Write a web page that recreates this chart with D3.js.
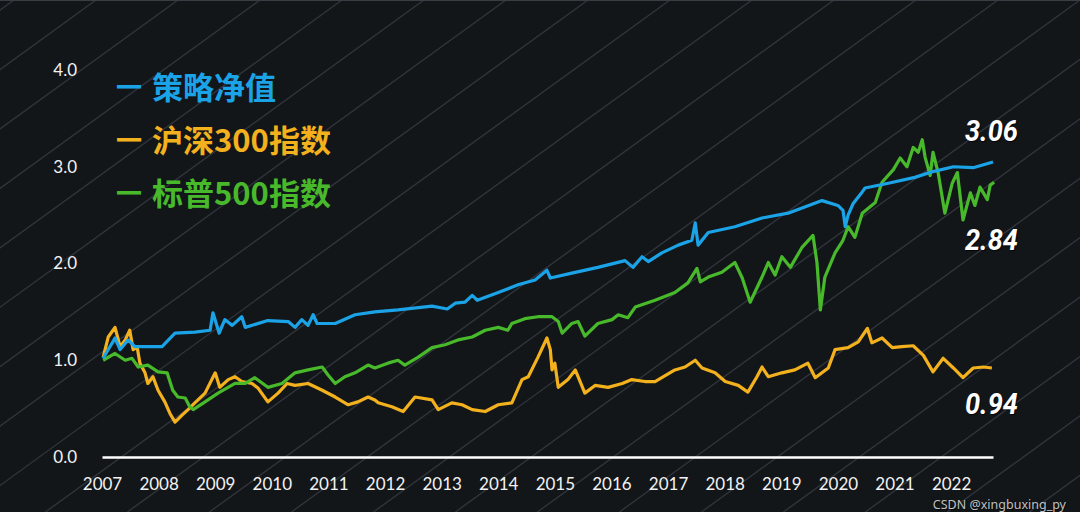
<!DOCTYPE html>
<html><head><meta charset="utf-8">
<script src="https://cdn.jsdelivr.net/npm/d3@7"></script>
<style>html,body{margin:0;padding:0;background:#121619;} svg{display:block}</style>
</head><body><svg id="c" width="1080" height="512"></svg>
<script>
// ---- data (decimal years, net value) ----
const strategyDates = [2007.02,2007.23,2007.32,2007.46,2007.58,2008.06,2008.29,2008.64,2008.91,2008.96,2009.07,2009.17,2009.30,2009.47,2009.53,2009.93,2010.29,2010.41,2010.53,2010.64,2010.73,2010.80,2011.12,2011.47,2011.82,2012.23,2012.83,2013.10,2013.24,2013.41,2013.54,2013.63,2014.00,2014.35,2014.65,2014.86,2014.92,2015.30,2015.76,2016.24,2016.38,2016.54,2016.65,2016.89,2017.18,2017.42,2017.48,2017.53,2017.71,2018.18,2018.66,2019.12,2019.72,2020.00,2020.09,2020.13,2020.18,2020.27,2020.43,2020.48,2020.89,2021.36,2021.68,2022.04,2022.39,2022.74];
const strategyValues = [1.02,1.23,1.11,1.21,1.14,1.14,1.28,1.29,1.31,1.49,1.28,1.42,1.36,1.45,1.34,1.41,1.40,1.34,1.42,1.36,1.47,1.38,1.38,1.47,1.50,1.52,1.56,1.53,1.59,1.60,1.67,1.62,1.70,1.78,1.83,1.93,1.85,1.90,1.96,2.03,1.96,2.07,2.02,2.11,2.19,2.24,2.42,2.19,2.32,2.38,2.47,2.52,2.65,2.60,2.55,2.38,2.50,2.62,2.74,2.78,2.83,2.89,2.95,3.00,2.99,3.05];

const csi300Dates = [2007.02,2007.11,2007.23,2007.32,2007.41,2007.49,2007.55,2007.62,2007.67,2007.76,2007.81,2007.90,2007.99,2008.11,2008.20,2008.29,2008.41,2008.52,2008.64,2008.82,2009.00,2009.08,2009.23,2009.35,2009.47,2009.65,2009.76,2009.93,2010.11,2010.27,2010.41,2010.64,2010.89,2011.12,2011.35,2011.52,2011.70,2011.82,2011.88,2012.12,2012.32,2012.53,2012.83,2012.94,2013.18,2013.36,2013.54,2013.77,2014.00,2014.24,2014.42,2014.53,2014.70,2014.86,2014.92,2014.95,2015.00,2015.06,2015.23,2015.36,2015.41,2015.53,2015.71,2015.94,2016.19,2016.36,2016.59,2016.77,2017.12,2017.30,2017.48,2017.60,2017.83,2018.01,2018.24,2018.41,2018.57,2018.66,2018.77,2019.01,2019.24,2019.47,2019.60,2019.83,2019.95,2020.18,2020.36,2020.52,2020.60,2020.78,2020.96,2021.13,2021.33,2021.51,2021.68,2021.86,2022.04,2022.21,2022.39,2022.57,2022.72];
const csi300Values = [1.03,1.24,1.34,1.14,1.21,1.31,1.11,1.14,0.97,0.87,0.76,0.83,0.69,0.57,0.45,0.36,0.43,0.49,0.56,0.66,0.87,0.72,0.80,0.83,0.78,0.76,0.71,0.57,0.66,0.76,0.74,0.76,0.69,0.62,0.54,0.57,0.62,0.59,0.56,0.52,0.47,0.62,0.59,0.49,0.56,0.54,0.49,0.47,0.54,0.56,0.80,0.83,1.03,1.23,1.11,0.90,0.97,0.72,0.80,0.90,0.83,0.66,0.74,0.72,0.76,0.80,0.78,0.78,0.90,0.93,1.00,0.92,0.87,0.78,0.74,0.67,0.83,0.93,0.83,0.87,0.90,0.97,0.82,0.92,1.11,1.13,1.19,1.33,1.18,1.23,1.13,1.14,1.15,1.05,0.88,1.02,0.92,0.82,0.92,0.93,0.92];

const sp500Dates = [2007.02,2007.23,2007.41,2007.53,2007.64,2007.81,2007.99,2008.15,2008.25,2008.34,2008.47,2008.55,2008.61,2008.82,2009.05,2009.35,2009.53,2009.70,2009.93,2010.18,2010.41,2010.64,2010.89,2010.99,2011.12,2011.29,2011.47,2011.70,2011.82,2012.05,2012.23,2012.35,2012.58,2012.83,2013.06,2013.29,2013.54,2013.77,2014.00,2014.17,2014.24,2014.47,2014.70,2014.95,2015.06,2015.13,2015.30,2015.41,2015.53,2015.76,2016.01,2016.12,2016.29,2016.42,2016.77,2017.12,2017.35,2017.51,2017.57,2017.71,2017.95,2018.18,2018.31,2018.45,2018.66,2018.77,2018.89,2019.01,2019.16,2019.37,2019.56,2019.63,2019.69,2019.77,2019.95,2020.09,2020.18,2020.30,2020.43,2020.66,2020.78,2020.98,2021.10,2021.22,2021.33,2021.42,2021.49,2021.54,2021.63,2021.68,2021.77,2021.89,2022.02,2022.11,2022.21,2022.34,2022.42,2022.51,2022.64,2022.69,2022.76];
const sp500Values = [1.00,1.07,1.00,1.02,0.93,0.95,0.88,0.87,0.69,0.62,0.61,0.52,0.49,0.57,0.66,0.76,0.76,0.82,0.72,0.76,0.87,0.90,0.93,0.85,0.76,0.83,0.87,0.95,0.92,0.97,1.00,0.95,1.03,1.13,1.16,1.21,1.24,1.31,1.34,1.31,1.38,1.43,1.45,1.45,1.40,1.28,1.38,1.40,1.25,1.38,1.42,1.47,1.44,1.55,1.62,1.70,1.80,1.95,1.81,1.86,1.91,2.01,1.85,1.60,1.86,2.01,1.88,2.07,1.96,2.17,2.29,2.01,1.52,1.86,2.11,2.24,2.38,2.27,2.52,2.63,2.84,2.97,3.09,3.00,3.20,3.15,3.28,3.10,2.91,3.15,2.94,2.52,2.83,2.94,2.45,2.73,2.60,2.79,2.66,2.81,2.84];

const seriesNames = ["策略净值", "沪深300指数", "标普500指数"];
const endLabels = ["3.06", "2.84", "0.94"];
const xTickLabels = [2007,2008,2009,2010,2011,2012,2013,2014,2015,2016,2017,2018,2019,2020,2021,2022];
const yTickLabels = [0, 1, 2, 3, 4];
const watermark = "CSDN @xingbuxing_py";

// ---- drawing ----
const W = 1080, H = 512;
const svg = d3.select("#c");
svg.append("rect").attr("width", W).attr("height", H).attr("fill", "#121619");

// diagonal background stripes
const stripeIdx = d3.range(0, 24);
svg.append("g").selectAll("line").data(stripeIdx).join("line")
  .attr("x1", i => 14 + 82 * i).attr("y1", 0)
  .attr("x2", i => 14 + 82 * i - 512 * 1.38).attr("y2", 512)
  .attr("stroke", "#30343c").attr("stroke-width", 1.4);
svg.append("line").attr("x1", 0).attr("x2", W).attr("y1", 0.5).attr("y2", 0.5)
  .attr("stroke", "#3a3e44").attr("stroke-width", 1);

const x = d3.scaleLinear().domain([2007, 2022.74]).range([102, 993]);
const y = d3.scaleLinear().domain([0, 4]).range([457, 70]);

// y axis labels
const yAxis = svg.append("g").attr("transform", "translate(80,0)")
  .call(d3.axisLeft(y).tickValues(yTickLabels).tickFormat(d3.format(".1f")).tickSize(0).tickPadding(3));
yAxis.select(".domain").remove();
yAxis.selectAll("text").attr("fill", "#f2f2f2").attr("font-size", 17)
  .attr("font-family", "Lato, 'Open Sans', sans-serif");

// x axis
const xAxis = svg.append("g").attr("transform", "translate(0,457)")
  .call(d3.axisBottom(x).tickValues(xTickLabels).tickFormat(d3.format("d")).tickSize(0).tickSizeOuter(0).tickPadding(21));
xAxis.select(".domain").attr("stroke", "#ffffff").attr("stroke-width", 2.5);
xAxis.selectAll("text").attr("fill", "#f2f2f2").attr("font-size", 17)
  .attr("font-family", "Lato, 'Open Sans', sans-serif");

const colors = ["#1ba3e8", "#f3b11d", "#48b92b"];
const series = [
  {dates: csi300Dates, values: csi300Values, color: colors[1]},
  {dates: sp500Dates, values: sp500Values, color: colors[2]},
  {dates: strategyDates, values: strategyValues, color: colors[0]}
];
const line = d3.line().x(d => x(d[0])).y(d => y(d[1]));
series.forEach(s => {
  svg.append("path").datum(d3.zip(s.dates, s.values))
    .attr("d", line).attr("fill", "none").attr("stroke", s.color)
    .attr("stroke-width", 3.2).attr("stroke-linejoin", "round");
});

// legend
const legend = svg.append("g");
seriesNames.forEach((name, i) => {
  const t = legend.append("text").attr("x", 116).attr("y", 85 + i * 53)
    .attr("dominant-baseline", "central")
    .attr("font-family", "'Noto Sans CJK SC', sans-serif")
    .attr("font-weight", 700).attr("font-size", 31)
    .attr("fill", colors[i]);
  t.append("tspan").attr("font-size", 26).text("一");
  t.append("tspan").attr("dx", 10).text(name);
});

// end labels
const ends = [
  {label: endLabels[0], v: strategyValues[strategyValues.length - 1], dy: -21},
  {label: endLabels[1], v: sp500Values[sp500Values.length - 1], dy: 68},
  {label: endLabels[2], v: csi300Values[csi300Values.length - 1], dy: 46}
];
ends.forEach(e => {
  svg.append("text").attr("x", 965).attr("y", y(e.v) + e.dy)
    .attr("font-family", "Roboto, sans-serif").attr("font-weight", 700)
    .attr("font-style", "italic").attr("font-size", 30)
    .attr("textLength", 53).attr("lengthAdjust", "spacingAndGlyphs")
    .attr("fill", "#ffffff").style("text-shadow", "1px 1px 1px rgba(0,0,0,0.8)")
    .text(e.label);
});

// watermark, nudged just below the 2022 label so they do not collide
svg.append("text").attr("x", 1066).attr("y", 509).attr("text-anchor", "end")
  .attr("font-family", "'Noto Sans', sans-serif").attr("font-size", 12.5)
  .attr("fill", "rgba(225,225,225,0.85)").style("text-shadow", "1px 1px 1px rgba(0,0,0,0.9)")
  .text(watermark);
</script></body></html>
